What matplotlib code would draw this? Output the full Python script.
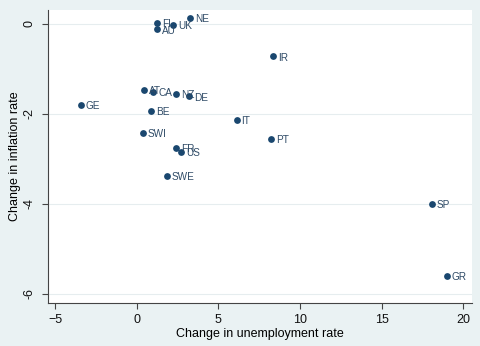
import matplotlib
matplotlib.use("Agg")
import matplotlib.pyplot as plt

plt.rcParams['font.family'] = ['Liberation Sans', 'DejaVu Sans']

countries = ["NE", "FI", "UK", "AU", "IR", "AT", "CA", "NZ", "DE", "GE", "BE",
             "SWI", "FR", "US", "SWE", "IT", "PT", "SP", "GR"]
unemp = [3.28, 1.26, 2.24, 1.26, 8.37, 0.45, 1.02, 2.43, 3.22, -3.41, 0.90,
         0.39, 2.41, 2.73, 1.86, 6.12, 8.24, 18.10, 18.98]
infl = [0.12, 0.01, -0.03, -0.13, -0.73, -1.48, -1.51, -1.56, -1.62, -1.80, -1.95,
        -2.43, -2.76, -2.86, -3.39, -2.14, -2.57, -4.00, -5.61]
xticks = [-5, 0, 5, 10, 15, 20]
yticks = [0, -2, -4, -6]

bg = '#EAF2F3'
navy = '#1A476F'

fig = plt.figure(figsize=(4.8, 3.46), dpi=100, facecolor=bg)
ax = fig.add_axes([0.1, 0.124, 0.883, 0.847])
ax.set_facecolor('white')

ax.scatter(unemp, infl, s=24, color=navy, zorder=3, linewidths=0)
for c, x, y in zip(countries, unemp, infl):
    ax.annotate(c, (x, y), xytext=(3.5, -0.8), textcoords='offset points',
                ha='left', va='center', fontsize=7.2, color='#2e4a66', zorder=4)

ax.set_xlim(-5.43, 20.53)
ax.set_ylim(-6.21, 0.30)
ax.set_xticks(xticks)
ax.set_yticks(yticks)
ax.set_yticklabels([str(t) for t in yticks], rotation=90, va='center')
ax.grid(axis='y', color='#E6EDEF', linewidth=0.8, zorder=0)
ax.set_axisbelow(True)

for s in ['top', 'right']:
    ax.spines[s].set_visible(False)
for s in ['left', 'bottom']:
    ax.spines[s].set_color('#444444')
    ax.spines[s].set_linewidth(0.8)
ax.tick_params(axis='both', direction='out', length=4, width=0.8, colors='#444444',
               labelcolor='#111111', labelsize=9)
ax.tick_params(axis='y', pad=5)

ax.set_xlabel('Change in unemployment rate', fontsize=9, labelpad=2)
ax.set_ylabel('Change in inflation rate', fontsize=9, labelpad=2)

fig.savefig('out.png', dpi=100, facecolor=bg)
